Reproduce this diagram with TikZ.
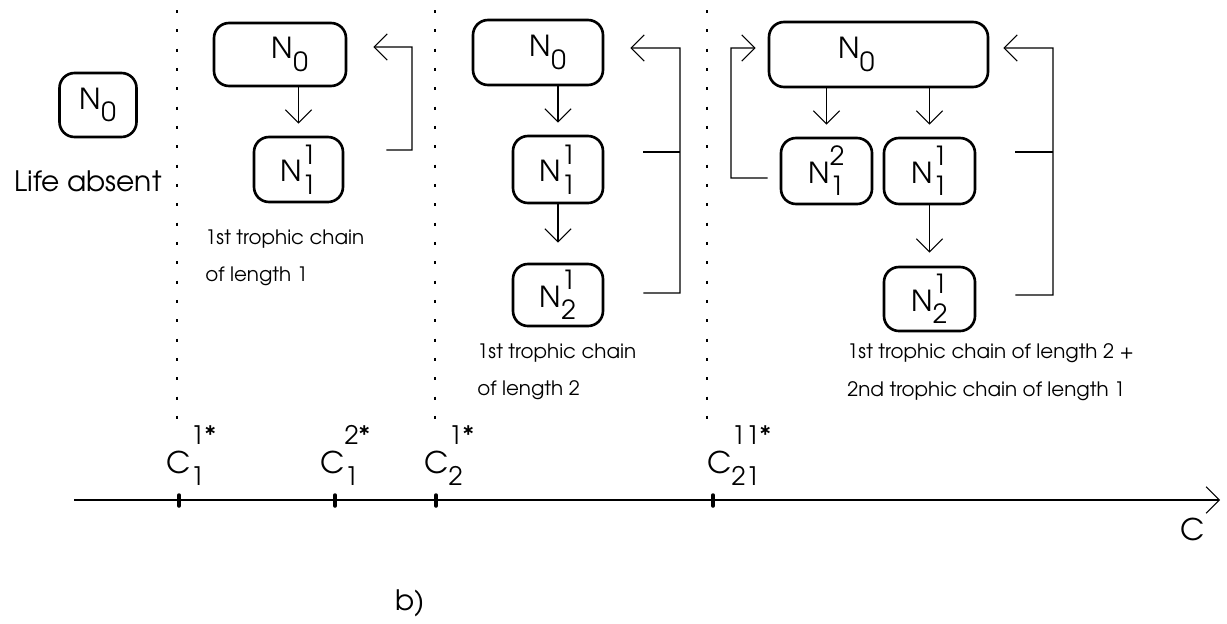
\documentclass[tikz,border=0pt]{standalone}
\usepackage{fontspec}
\setmainfont{texgyreadventor}[Extension=.otf, UprightFont=*-regular, BoldFont=*-bold]
\usetikzlibrary{arrows.meta}

% species symbol with upper and lower index
\newcommand{\Nlev}[2]{N\rlap{\raisebox{10pt}{\fontsize{15}{15}\selectfont #1}}\raisebox{-7pt}{\fontsize{15}{15}\selectfont #2}}
\newcommand{\Clev}[2]{C\rlap{\raisebox{16.5pt}{\fontsize{14.5}{14.5}\selectfont #1}}\raisebox{-7pt}{\fontsize{14.5}{14.5}\selectfont #2}}

\begin{document}
\begin{tikzpicture}[x=0.02cm, y=-0.02cm,
    box/.style={draw, line width=1.5pt, rounded corners=0.3cm, inner sep=0pt, font=\fontsize{16.5}{16.5}\selectfont},
    flow/.style={-{Straight Barb[length=7.5pt, width=15pt]}, line width=0.6pt},
    sep/.style={line width=0.6pt, dash pattern=on 1.7pt off 9.3pt},
    note/.style={align=left, inner sep=0pt, font=\fontsize{11.3}{21.5}\selectfont},
    clabel/.style={inner sep=0pt, font=\fontsize{17}{17}\selectfont}]
    \useasboundingbox (0,0) rectangle (1227,623);

    % Life absent
    \node[box, minimum width=1.54cm, minimum height=1.28cm] (n0) at (98,105) {\Nlev{}{0}};
    \node[font=\fontsize{16}{16}\selectfont] (absent) at (88,181) {Life absent};

    % Separators
    \draw[sep] (177,10) -- (177,432);
    \draw[sep] (435,10) -- (435,430);
    \draw[sep] (707,10) -- (707,426);

    % First chain of length 1
    \node[box, minimum width=2.64cm, minimum height=1.26cm] (n0a) at (280,54.5) {\hspace*{0.4cm}\Nlev{}{0}};
    \node[box, minimum width=1.78cm, minimum height=1.3cm] (n1a) at (298.5,169.5) {\Nlev{1}{1}};
    \draw[flow, shorten >=0.24cm] (n1a.north |- n0a.south) -- (n1a.north);
    \coordinate (s1) at (412,47);
    \draw[flow] ([xshift=0.84cm,yshift=0.39cm]n1a.east) -| (s1) -- ([xshift=0.52cm,yshift=0.15cm]n0a.east);
    \node[note, anchor=north west] (t1) at (205,229) {1st trophic chain\\of length 1};

    % First chain of length 2
    \node[box, minimum width=2.6cm, minimum height=1.3cm] (n0b) at (538,52.5) {\hspace*{0.4cm}\Nlev{}{0}};
    \node[box, minimum width=1.8cm, minimum height=1.34cm] (n1b) at (558,169.5) {\Nlev{1}{1}};
    \node[box, minimum width=1.8cm, minimum height=1.24cm] (n2b) at (558,295) {\Nlev{1}{2}};
    \draw[flow, shorten >=0.24cm] (n1b.north |- n0b.south) -- (n1b.north);
    \draw[flow, shorten >=0.4cm] (n2b.north |- n1b.south) -- (n2b.north);
    \coordinate (s2) at (680,48);
    \draw[flow] ([xshift=0.78cm,yshift=0.04cm]n2b.east) -| (s2) -- ([xshift=0.52cm,yshift=0.09cm]n0b.east);
    \draw[line width=0.6pt] ([xshift=0.78cm,yshift=0.35cm]n1b.east) coordinate (h2) -- (h2 -| s2);
    \node[note, anchor=north west] (t2) at (477,343) {1st trophic chain\\of length 2};

    % Two chains
    \node[box, minimum width=4.38cm, minimum height=1.3cm] (n0c) at (878.5,54.5) {\Nlev{}{0}\hspace*{0.88cm}};
    \node[box, minimum width=1.82cm, minimum height=1.32cm] (n12c) at (826.5,171) {\Nlev{2}{1}};
    \node[box, minimum width=1.82cm, minimum height=1.32cm] (n1c) at (929.5,171) {\Nlev{1}{1}};
    \node[box, minimum width=1.82cm, minimum height=1.28cm] (n2c) at (929.5,299) {\Nlev{1}{2}};
    \draw[flow, shorten >=0.24cm] (n12c.north |- n0c.south) -- (n12c.north);
    \draw[flow, shorten >=0.24cm] (n1c.north |- n0c.south) -- (n1c.north);
    \draw[flow, shorten >=0.26cm] (n2c.north |- n1c.south) -- (n2c.north);
    \coordinate (s3) at (1053,48);
    \coordinate (s3l) at (731,48);
    \draw[flow] ([xshift=0.78cm,yshift=0.08cm]n2c.east) -| (s3) -- ([xshift=0.28cm,yshift=0.13cm]n0c.east);
    \draw[line width=0.6pt] ([xshift=0.78cm,yshift=0.38cm]n1c.east) coordinate (h3) -- (h3 -| s3);
    \draw[flow] ([xshift=-0.24cm,yshift=-0.14cm]n12c.west) -| (s3l) -- ([xshift=-0.24cm,yshift=0.13cm]n0c.west);
    \node[note, anchor=north west] (t3) at (847,343) {1st trophic chain of length 2 +\\2nd trophic chain of length 1};

    % Axis
    \coordinate (axs) at (74,500);
    \coordinate (axe) at (1220,500);
    \draw[flow] (axs) -- (axe);
    \node[clabel] (cax) at (1193,529) {C};
    \foreach \x/\n in {179/k1, 335/k2, 436/k3, 713/k4}
        \coordinate (\n) at (\x,500);
    \foreach \n in {k1,k2,k3,k4}
        \draw[line width=2pt, line cap=round] ([yshift=0.1cm]\n) -- ([yshift=-0.12cm]\n);
    \node[clabel, anchor=base west] (c1a) at ([xshift=-0.26cm,yshift=0.54cm]k1) {\Clev{1*}{1}};
    \node[clabel, anchor=base west] (c1b) at ([xshift=-0.30cm,yshift=0.54cm]k2) {\Clev{2*}{1}};
    \node[clabel, anchor=base west] (c2a) at ([xshift=-0.24cm,yshift=0.54cm]k3) {\Clev{1*}{2}};
    \node[clabel, anchor=base west] (c21) at ([xshift=-0.12cm,yshift=0.54cm]k4) {\Clev{11*}{21}};

    \node[font=\fontsize{16}{16}\selectfont] (part) at (410,603) {b)};
\end{tikzpicture}
\end{document}
